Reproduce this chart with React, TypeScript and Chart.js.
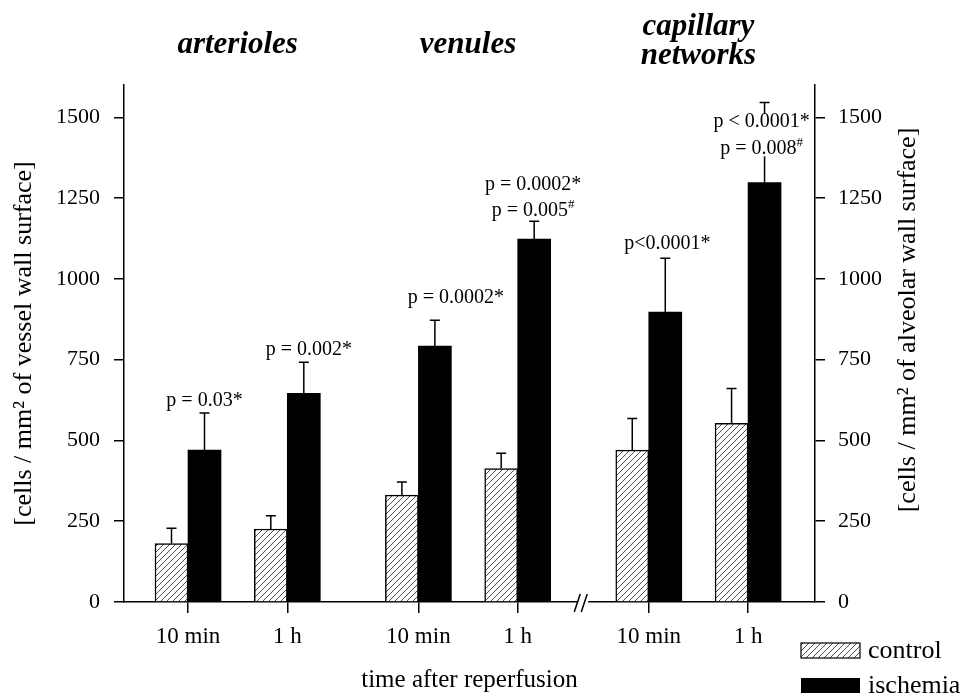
import React, { useEffect, useRef } from 'react';
import { Chart, registerables } from 'chart.js';

Chart.register(...registerables);

// ---------------- data ----------------
const groups = ['arterioles', 'venules', 'capillary networks'];
const groupTitleLines = [['arterioles'], ['venules'], ['capillary', 'networks']];
const times = ['10 min', '1 h'];
const tickLabels = ['10 min', '1 h', '10 min', '1 h', '10 min', '1 h'];
const controlMean = [181, 226, 331, 413, 470, 553];
const controlSD = [47, 41, 40, 47, 98, 108];
const ischemiaMean = [470, 646, 792, 1123, 897, 1298];
const ischemiaSD = [115, 96, 80, 55, 167, 248];
const yTicks = [0, 250, 500, 750, 1000, 1250, 1500];
const legendLabels = ['control', 'ischemia'];
const xTitle = 'time after reperfusion';
const yTitleLeft = '[cells / mm² of vessel wall surface]';
const yTitleRight = '[cells / mm² of alveolar wall surface]';

// p-value annotations above ischemia bars: text, optional superscript, value level
const annotations = [
  [{ t: 'p = 0.03*', sup: '', v: 622 }],
  [{ t: 'p = 0.002*', sup: '', v: 782 }],
  [{ t: 'p = 0.0002*', sup: '', v: 943 }],
  [{ t: 'p = 0.0002*', sup: '', v: 1290 }, { t: 'p = 0.005', sup: '#', v: 1212 }],
  [{ t: 'p<0.0001*', sup: '', v: 1110 }],
  [{ t: 'p < 0.0001*', sup: '', v: 1485 }, { t: 'p = 0.008', sup: '#', v: 1404 }],
];
const annotationDx = [0, 5, 21, -1, 2, -3];

// ---------------- layout ----------------
const GROUP_STEP = 2.32;
const slotX = groups.flatMap((_, g) => times.map((_, t) => g * GROUP_STEP + t));
const X_MIN = -0.6445;
const X_MAX = 6.314;
const SERIF = '"Liberation Serif", "Times New Roman", serif';

export default function App() {
  const ref = useRef<HTMLCanvasElement>(null);

  useEffect(() => {
    const canvas = ref.current!;
    const ctx0 = canvas.getContext('2d')!;

    const tile = document.createElement('canvas');
    tile.width = 6;
    tile.height = 6;
    const tg = tile.getContext('2d')!;
    tg.fillStyle = '#fff';
    tg.fillRect(0, 0, 6, 6);
    tg.strokeStyle = '#3a3a3a';
    tg.lineWidth = 0.9;
    tg.beginPath();
    tg.moveTo(-1, 7); tg.lineTo(7, -1);
    tg.moveTo(-1, 1); tg.lineTo(1, -1);
    tg.moveTo(5, 7); tg.lineTo(7, 5);
    tg.stroke();
    const hatch = ctx0.createPattern(tile, 'repeat')!;

    const decor = {
      id: 'decor',
      afterDatasetsDraw(chart: any) {
        const ctx = chart.ctx;
        const ys = chart.scales.y;
        ctx.save();
        ctx.strokeStyle = '#000';
        ctx.lineWidth = 1.5;
        const sets: any[] = [
          [chart.getDatasetMeta(0), controlMean, controlSD],
          [chart.getDatasetMeta(1), ischemiaMean, ischemiaSD],
        ];
        sets.forEach(([meta, m, sd]) => {
          meta.data.forEach((el: any, i: number) => {
            const x = el.x;
            const y0 = ys.getPixelForValue(m[i]);
            const y1 = ys.getPixelForValue(m[i] + sd[i]);
            ctx.beginPath();
            ctx.moveTo(x, y0);
            ctx.lineTo(x, y1);
            ctx.moveTo(x - 5, y1);
            ctx.lineTo(x + 5, y1);
            ctx.stroke();
          });
        });

        // annotations
        const meta1 = chart.getDatasetMeta(1);
        annotations.forEach((lines, i) => {
          const cx = meta1.data[i].x + annotationDx[i];
          const mainFont = `20px ${SERIF}`;
          const supFont = `13px ${SERIF}`;
          const widths = lines.map((ln) => {
            ctx.font = mainFont;
            const w1 = ctx.measureText(ln.t).width;
            ctx.font = supFont;
            const w2 = ln.sup ? ctx.measureText(ln.sup).width : 0;
            return [w1, w2];
          });
          const maxW = Math.max(...widths.map((w) => w[0] + w[1]));
          const yTop = Math.min(...lines.map((ln) => ys.getPixelForValue(ln.v))) - 8;
          const yBot = Math.max(...lines.map((ln) => ys.getPixelForValue(ln.v))) + 8;
          ctx.fillStyle = '#fff';
          ctx.fillRect(cx - maxW / 2 - 2, yTop, maxW + 4, yBot - yTop);
          lines.forEach((ln, k) => {
            const y = ys.getPixelForValue(ln.v);
            const [w1, w2] = widths[k];
            const x0 = cx - (w1 + w2) / 2;
            ctx.fillStyle = '#000';
            ctx.textAlign = 'left';
            ctx.textBaseline = 'middle';
            ctx.font = mainFont;
            ctx.fillText(ln.t, x0, y);
            if (ln.sup) {
              ctx.font = supFont;
              ctx.fillText(ln.sup, x0 + w1, y - 6);
            }
          });
        });
        ctx.restore();
      },
      afterDraw(chart: any) {
        const ctx = chart.ctx;
        const xs = chart.scales.x;
        const area = chart.chartArea;
        ctx.save();

        // axis break
        const bx = xs.getPixelForValue((slotX[3] + slotX[4]) / 2);
        const by = area.bottom;
        ctx.fillStyle = '#fff';
        ctx.fillRect(bx - 5, by - 3, 10, 6);
        ctx.strokeStyle = '#000';
        ctx.lineWidth = 1.5;
        ctx.beginPath();
        ctx.moveTo(bx - 9, by + 10); ctx.lineTo(bx - 3, by - 8);
        ctx.moveTo(bx - 2, by + 10); ctx.lineTo(bx + 4, by - 8);
        ctx.stroke();

        // group titles
        ctx.fillStyle = '#000';
        ctx.textAlign = 'center';
        ctx.textBaseline = 'alphabetic';
        ctx.font = `italic bold 31px ${SERIF}`;
        groupTitleLines.forEach((lines, g) => {
          const gx = xs.getPixelForValue((slotX[2 * g] + slotX[2 * g + 1]) / 2);
          const base = lines.length === 1 ? [53] : [35, 64];
          lines.forEach((ln, k) => ctx.fillText(ln, gx, base[k]));
        });

        // right axis title
        ctx.save();
        ctx.translate(908, 320);
        ctx.rotate(-Math.PI / 2);
        ctx.font = `26px ${SERIF}`;
        ctx.textAlign = 'center';
        ctx.textBaseline = 'middle';
        ctx.fillText(yTitleRight, 0, 0);
        ctx.restore();

        // legend
        const lx = 801, lw = 59, lh = 15;
        const ly = [643, 678];
        ctx.fillStyle = hatch;
        ctx.fillRect(lx, ly[0], lw, lh);
        ctx.strokeStyle = '#000';
        ctx.lineWidth = 1.2;
        ctx.strokeRect(lx, ly[0], lw, lh);
        ctx.fillStyle = '#000';
        ctx.fillRect(lx, ly[1], lw, lh);
        ctx.font = `26px ${SERIF}`;
        ctx.textAlign = 'left';
        ctx.textBaseline = 'middle';
        ctx.fillText(legendLabels[0], 868, ly[0] + 8);
        ctx.fillText(legendLabels[1], 868, ly[1] + 8);
        ctx.restore();
      },
    };

    const axisGrid = { display: true, drawOnChartArea: false, drawTicks: true, color: '#000', lineWidth: 1.5, offset: false };
    const axisBorder = { display: true, color: '#000', width: 1.5 };

    const chart = new Chart(canvas, {
      type: 'bar',
      data: {
        datasets: [
          {
            label: legendLabels[0],
            data: slotX.map((x, i) => ({ x, y: controlMean[i] })),
            backgroundColor: hatch as any,
            borderColor: '#000',
            borderWidth: 1.5,
            barThickness: 33,
          },
          {
            label: legendLabels[1],
            data: slotX.map((x, i) => ({ x, y: ischemiaMean[i] })),
            backgroundColor: '#000',
            borderWidth: 0,
            barThickness: 33,
          },
        ],
      } as any,
      options: {
        responsive: false,
        animation: false,
        events: [],
        layout: { padding: { top: 85, left: 0, right: 0, bottom: 0 } },
        plugins: { legend: { display: false }, tooltip: { enabled: false }, title: { display: false } },
        scales: {
          x: {
            type: 'linear',
            min: X_MIN,
            max: X_MAX,
            offset: false,
            afterBuildTicks: (a: any) => { a.ticks = slotX.map((v) => ({ value: v })); },
            ticks: {
              callback: (_v: any, i: number) => tickLabels[i],
              font: { family: SERIF, size: 23 },
              color: '#000',
              padding: 10,
              autoSkip: false,
              maxRotation: 0,
              minRotation: 0,
            },
            grid: { ...axisGrid, tickLength: 11 },
            border: axisBorder,
            title: {
              display: true,
              text: xTitle,
              color: '#000',
              font: { family: SERIF, size: 25, lineHeight: 1 },
              padding: { top: 0, bottom: 0 },
            },
            afterFit: (s: any) => { s.height = 91; },
          },
          y: {
            type: 'linear',
            position: 'left',
            min: 0,
            max: 1600,
            afterBuildTicks: (a: any) => { a.ticks = yTicks.map((v) => ({ value: v })); },
            ticks: { callback: (v: any) => String(v), font: { family: SERIF, size: 22 }, color: '#000', padding: 14 },
            grid: { ...axisGrid, tickLength: 10 },
            border: axisBorder,
            title: {
              display: true,
              text: yTitleLeft,
              color: '#000',
              font: { family: SERIF, size: 26 },
              padding: { top: 9, bottom: 0 },
            },
            afterFit: (s: any) => { s.width = 124; },
          },
          y2: {
            type: 'linear',
            position: 'right',
            min: 0,
            max: 1600,
            afterBuildTicks: (a: any) => { a.ticks = yTicks.map((v) => ({ value: v })); },
            ticks: { callback: (v: any) => String(v), font: { family: SERIF, size: 22 }, color: '#000', padding: 13 },
            grid: { ...axisGrid, tickLength: 10 },
            border: axisBorder,
            title: { display: false },
            afterFit: (s: any) => { s.width = 151; },
          },
        },
      } as any,
      plugins: [decor],
    });

    return () => chart.destroy();
  }, []);

  return (
    <div style={{ position: 'fixed', left: 0, top: 0, width: 966, height: 693, background: '#fff' }}>
      <canvas ref={ref} width={966} height={693} style={{ display: 'block', width: 966, height: 693 }} />
    </div>
  );
}
